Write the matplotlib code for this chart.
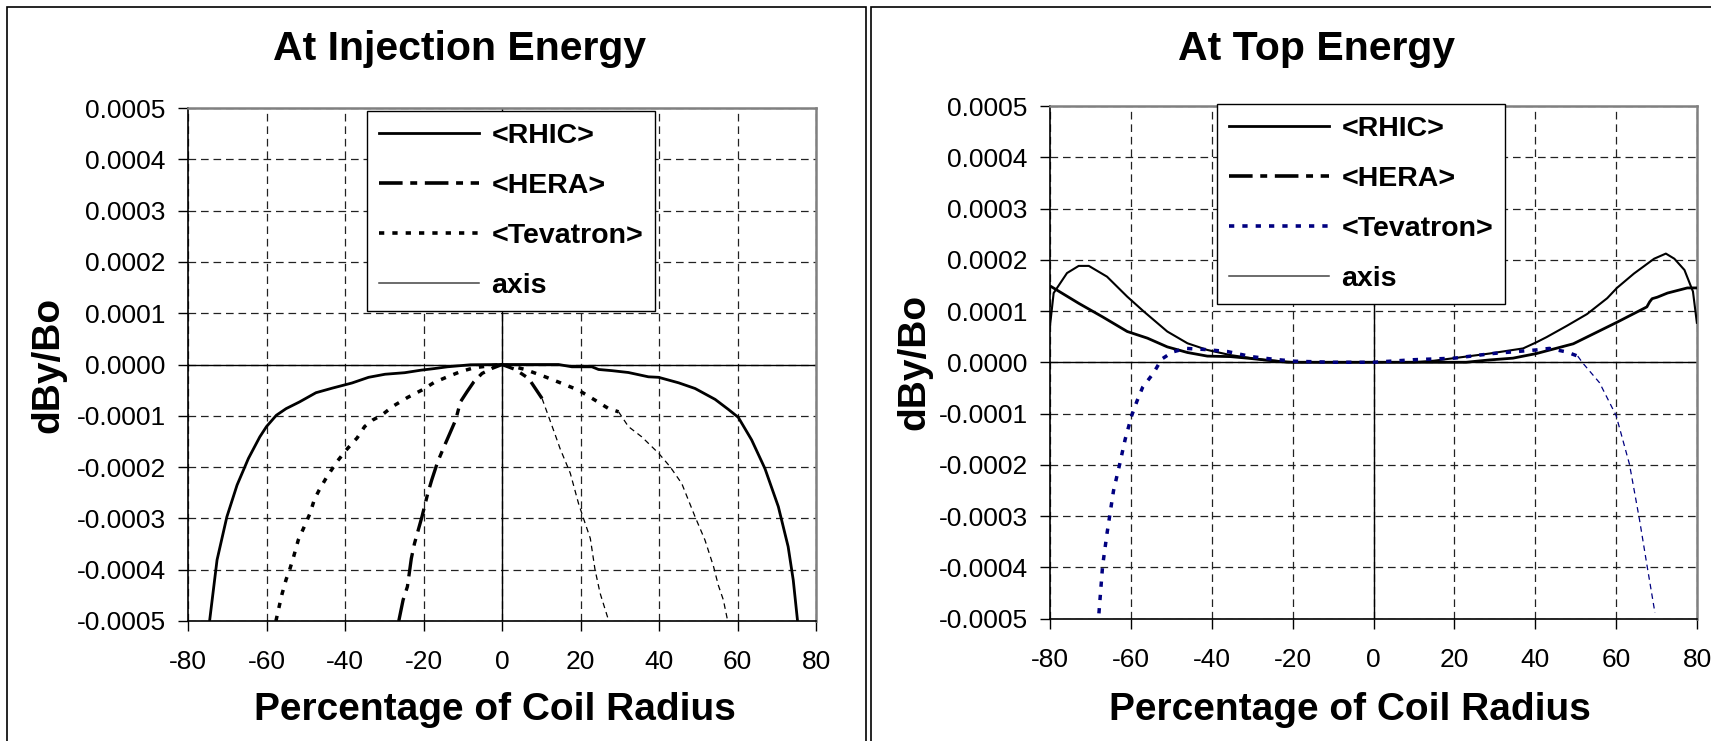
import numpy as np
import matplotlib
matplotlib.use("Agg")
import matplotlib.pyplot as plt
from matplotlib.lines import Line2D
from matplotlib.patches import Rectangle
from matplotlib.ticker import FixedLocator, FuncFormatter

plt.rcParams['font.family'] = ['Liberation Sans', 'DejaVu Sans']
plt.rcParams['lines.scale_dashes'] = False

# ---------------- data (y values in units of 1e-4) ----------------
titles = ["At Injection Energy", "At Top Energy"]
series_names = ["<RHIC>", "<HERA>", "<Tevatron>", "axis"]
x_ticks = [-80, -60, -40, -20, 0, 20, 40, 60, 80]
y_ticks = [-0.0005, -0.0004, -0.0003, -0.0002, -0.0001, 0.0, 0.0001, 0.0002, 0.0003, 0.0004, 0.0005]

inj_rhic_x = [-74.5, -72.6, -70.1, -67.5, -64.6, -61.7, -60.0, -57.5, -55.0, -51.6, -47.4, -43.2, -38.2,
              -34.0, -29.8, -24.8, -20.6, -17.3, -13.9, -8.0, 0.0, 8.0, 14.4, 17.8, 22.9, 24.6, 28.0,
              32.2, 37.3, 39.9, 45.0, 49.2, 54.3, 57.7, 60.2, 63.6, 67.0, 70.4, 72.9, 74.2, 75.3]
inj_rhic_y = [-5.0, -3.81, -2.97, -2.35, -1.83, -1.41, -1.21, -0.99, -0.86, -0.73, -0.55, -0.46, -0.36,
              -0.25, -0.19, -0.16, -0.11, -0.08, -0.045, -0.005, 0.0, 0.0, 0.0, -0.045, -0.045, -0.097, -0.12,
              -0.156, -0.24, -0.25, -0.357, -0.468, -0.68, -0.877, -1.03, -1.47, -2.03, -2.77, -3.55, -4.2, -5.0]

inj_hera_x = [-26.3, -25.2, -24.1, -23.1, -22.3, -20.4, -18.9, -17.9, -16.4, -14.7, -13.5, -11.8, -10.6,
              -8.9, -7.2, -5.1, -2.6, 0.0, 3.4, 6.8, 10.2, 11.9, 13.6, 14.8, 17.4, 19.5, 21.2, 22.5,
              23.7, 25.0, 27.0]
inj_hera_y = [-5.0, -4.59, -4.33, -3.78, -3.49, -2.97, -2.51, -2.25, -1.90, -1.59, -1.38, -1.08, -0.73,
              -0.53, -0.34, -0.175, -0.078, 0.0, -0.097, -0.273, -0.662, -1.02, -1.38, -1.64, -2.12, -2.71,
              -3.10, -3.39, -4.0, -4.46, -4.95]

inj_tev_x = [-57.6, -56.1, -55.0, -54.1, -53.1, -51.9, -50.2, -48.9, -47.8, -46.6, -44.7, -42.1, -39.5,
             -36.9, -35.0, -32.9, -30.7, -27.7, -24.0, -20.2, -17.3, -13.9, -10.6, -7.2, -3.9, 0.0, 2.5,
             5.9, 11.0, 15.3, 19.5, 23.7, 27.1, 29.7, 32.2, 35.6, 39.9, 42.8, 45.8, 49.2, 51.7, 53.9,
             55.1, 56.4, 57.5]
inj_tev_y = [-5.0, -4.49, -4.19, -4.0, -3.75, -3.42, -3.13, -2.90, -2.63, -2.45, -2.20, -1.90, -1.65,
             -1.43, -1.21, -1.08, -0.99, -0.81, -0.64, -0.49, -0.35, -0.24, -0.14, -0.065, -0.032, 0.0,
             -0.032, -0.097, -0.24, -0.37, -0.50, -0.695, -0.857, -0.922, -1.21, -1.41, -1.73, -1.99,
             -2.32, -2.97, -3.42, -3.94, -4.30, -4.59, -5.0]

top_rhic_x = [-80.0, -79.1, -75.8, -72.9, -70.4, -65.9, -60.9, -56.8, -51.0, -46.0, -41.1, -35.4, -27.1,
              -19.5, -10.0, 0.0, 10.0, 15.0, 20.9, 28.7, 37.0, 40.3, 42.8, 47.8, 52.8, 57.8, 60.2, 64.4,
              69.4, 72.3, 74.4, 76.9, 79.0, 80.0]
top_rhic_y = [0.71, 1.35, 1.74, 1.88, 1.88, 1.67, 1.28, 0.99, 0.60, 0.37, 0.24, 0.14, 0.045,
              0.0, 0.0, 0.0, 0.0, 0.03, 0.09, 0.17, 0.27, 0.39, 0.49, 0.71, 0.94, 1.25, 1.45, 1.73,
              2.02, 2.12, 2.02, 1.80, 1.38, 0.75]

top_hera_x = [-80.0, -72.9, -67.1, -60.9, -55.9, -51.0, -46.0, -41.1, -35.4, -31.2, -21.4, -10.0, 0.0,
              10.0, 22.9, 28.7, 34.5, 40.3, 49.4, 60.2, 67.6, 68.3, 68.9, 70.2, 72.7, 77.6, 80.0]
top_hera_y = [1.49, 1.15, 0.89, 0.60, 0.47, 0.30, 0.19, 0.12, 0.11, 0.08, 0.0, 0.0, 0.0,
              0.0, 0.0, 0.045, 0.08, 0.17, 0.36, 0.78, 1.08, 1.18, 1.24, 1.27, 1.35, 1.45, 1.45]

top_tev_x = [-67.9, -67.0, -65.9, -64.3, -62.8, -61.4, -59.8, -58.5, -57.1, -54.4, -52.4, -49.7, -46.4,
             -41.9, -36.2, -30.2, -24.9, -19.5, -10.0, 0.0, 10.1, 20.0, 29.4, 40.2, 43.5, 47.8, 50.5,
             51.8, 55.9, 60.0, 63.3, 65.8, 67.5, 69.6]
top_tev_y = [-4.9, -3.98, -3.34, -2.51, -2.0, -1.5, -1.04, -0.76, -0.49, -0.21, 0.06, 0.20, 0.27,
             0.25, 0.21, 0.11, 0.06, 0.02, 0.0, 0.0, 0.05, 0.08, 0.17, 0.24, 0.27, 0.20, 0.12,
             -0.02, -0.40, -1.04, -1.99, -3.08, -3.90, -4.89]

axis_x = [-80, 80, np.nan, 0, 0]
axis_y = [0, 0, np.nan, -5, 5]

SCALE = 1e-4

# ---------------- figure ----------------
W, H = 1711, 741
fig = plt.figure(figsize=(W / 100, H / 100), dpi=100)


def fx(px):
    return px / W


def fy(py):
    return 1 - py / H


# panel borders
fig.add_artist(Rectangle((fx(7), -0.1), fx(866) - fx(7), fy(7) + 0.1, transform=fig.transFigure,
                         fill=False, edgecolor='black', linewidth=1.2))
fig.add_artist(Rectangle((fx(871), -0.1), 1.0, fy(7) + 0.1, transform=fig.transFigure,
                         fill=False, edgecolor='black', linewidth=1.2))

ax1 = fig.add_axes([fx(188), fy(621), (816 - 188) / W, (621 - 108) / H])
ax2 = fig.add_axes([fx(1050), fy(618.5), (1697 - 1050) / W, (618.5 - 106) / H])

DASHDOT = (0, (17, 5.5, 5, 5.5))
DOTTED = (0, (3.8, 5.8))
THIN = (0, (4, 3))


def split_plot(ax, x, y, thr, color, lw, ls, z):
    x = np.asarray(x, float)
    y = np.asarray(y, float) * SCALE
    if thr is None:
        ax.plot(x, y, color=color, lw=lw, ls=ls, zorder=z, solid_capstyle='butt', dash_capstyle='butt')
        return
    m1 = x <= thr
    m2 = x >= thr
    ax.plot(x[m1], y[m1], color=color, lw=lw, ls=ls, zorder=z, dash_capstyle='butt')
    ax.plot(x[m2], y[m2], color=color, lw=0.9, ls=THIN, zorder=z, dash_capstyle='butt')


panels = [
    (ax1, titles[0], [(inj_rhic_x, inj_rhic_y), (inj_hera_x, inj_hera_y), (inj_tev_x, inj_tev_y)],
     dict(rhic_lw=2.0, hera_lw=2.4, hera_ls=DASHDOT, tev_lw=2.5, tev_color='black', hera_thr=10.2,
          tev_thr=29.7),
     460, 495, 48, 365, (367, 111)),
    (ax2, titles[1], [(top_rhic_x, top_rhic_y), (top_hera_x, top_hera_y), (top_tev_x, top_tev_y)],
     dict(rhic_lw=1.5, hera_lw=2.0, hera_ls='-', tev_lw=2.5, tev_color='#000080', hera_thr=None,
          tev_thr=50.5),
     1317, 1350, 914, 362, (1217, 104)),
]

for ax, title, data, st, tx, xlx, ylx, yly, legpos in panels:
    ax.set_xlim(-80, 80)
    ax.set_ylim(-0.0005, 0.0005)
    ax.xaxis.set_major_locator(FixedLocator(x_ticks))
    ax.yaxis.set_major_locator(FixedLocator(y_ticks))
    ax.xaxis.set_major_formatter(FuncFormatter(lambda v, p: f"{int(round(v))}"))
    ax.yaxis.set_major_formatter(FuncFormatter(lambda v, p: "0.0000" if abs(v) < 1e-12 else f"{v:.4f}"))
    ax.grid(True, color='#222222', lw=0.9, ls=(0, (5.5, 3.5)), zorder=1)
    ax.set_axisbelow(True)
    ax.tick_params(axis='both', direction='out', length=7, width=1, labelsize=19, colors='black')
    ax.tick_params(axis='y', pad=9)
    ax.tick_params(axis='x', pad=14)
    for s in ['top', 'right']:
        ax.spines[s].set_color('#808080')
        ax.spines[s].set_linewidth(1.8)
    for s in ['left', 'bottom']:
        ax.spines[s].set_color('black')
        ax.spines[s].set_linewidth(1.2)

    (rx, ry), (hx, hy), (tvx, tvy) = data
    ax.plot(np.asarray(axis_x, float), np.asarray(axis_y, float) * SCALE, color='black', lw=1.0, zorder=2)
    split_plot(ax, rx, ry, None, 'black', st['rhic_lw'], '-', 4)
    split_plot(ax, hx, hy, st['hera_thr'], 'black', st['hera_lw'], st['hera_ls'], 4)
    split_plot(ax, tvx, tvy, st['tev_thr'], st['tev_color'], st['tev_lw'], DOTTED, 4)

    handles = [
        Line2D([], [], color='black', lw=2.0, ls='-'),
        Line2D([], [], color='black', lw=2.6, ls=DASHDOT, dash_capstyle='butt'),
        Line2D([], [], color=st['tev_color'], lw=2.6, ls=DOTTED, dash_capstyle='butt'),
        Line2D([], [], color='#444444', lw=1.1, ls='-'),
    ]
    leg = ax.legend(handles, series_names, loc='upper left',
                    bbox_to_anchor=(fx(legpos[0]), fy(legpos[1])), bbox_transform=fig.transFigure,
                    borderaxespad=0, prop={'weight': 'bold', 'size': 20.5},
                    handlelength=3.5, handletextpad=0.45, labelspacing=0.84, borderpad=0.42,
                    fancybox=False, shadow=False, framealpha=1, edgecolor='black')
    leg.get_frame().set_linewidth(1.0)
    leg.set_zorder(10)

    fig.text(fx(tx), fy(60), title, ha='center', va='baseline', fontsize=29.5, fontweight='bold')
    fig.text(fx(xlx), fy(720), "Percentage of Coil Radius", ha='center', va='baseline',
             fontsize=28, fontweight='bold')
    fig.text(fx(ylx), fy(yly), "dBy/Bo", ha='center', va='center', rotation=90,
             fontsize=28, fontweight='bold')

fig.savefig("out.png", dpi=100)
